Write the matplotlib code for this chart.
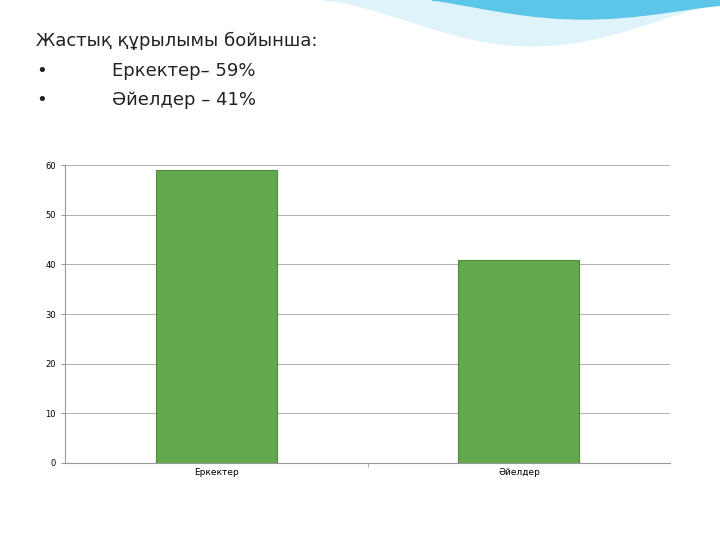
import matplotlib
matplotlib.use("Agg")
import matplotlib.pyplot as plt
import numpy as np
from matplotlib.patches import Polygon

categories = ["Еркектер", "Әйелдер"]
values = [59, 41]
yticks = [0, 10, 20, 30, 40, 50, 60]

fig = plt.figure(figsize=(7.2, 5.4), dpi=100)
fig.patch.set_facecolor("white")

# decorative wave top-right
t = np.linspace(0, 1, 60)
xs = 0.45 + 0.55 * t
top = np.ones_like(t)
bot = 1.0 - 0.085 * np.sin(np.pi * t * 0.95) ** 1.5
fig.patches.append(Polygon(np.c_[np.r_[xs, xs[::-1]], np.r_[top, bot[::-1]]],
                           closed=True, transform=fig.transFigure, color="#dff3fa", zorder=0))
xs2 = 0.6 + 0.4 * t
bot2 = 1.0 - 0.03 * np.sin(np.pi * t) ** 1.2 - 0.01 * t
fig.patches.append(Polygon(np.c_[np.r_[xs2, xs2[::-1]], np.r_[top, bot2[::-1]]],
                           closed=True, transform=fig.transFigure, color="#5cc6e8", zorder=0))

fig.text(0.05, 0.915, "Жастық құрылымы бойынша:", fontsize=13, color="#222222")
fig.text(0.05, 0.86, "•", fontsize=13, color="#222222")
fig.text(0.155, 0.86, "Еркектер– 59%", fontsize=13, color="#222222")
fig.text(0.05, 0.805, "•", fontsize=13, color="#222222")
fig.text(0.155, 0.805, "Әйелдер – 41%", fontsize=13, color="#222222")

ax = fig.add_axes([0.090, 0.1426, 0.841, 0.5514])
x = np.arange(len(categories))
ax.bar(x, values, width=0.4, color="#64a84e", edgecolor="#4f8a3c", linewidth=0.8, zorder=3)
ax.set_xlim(-0.5, 1.5)
ax.set_ylim(0, 60)
ax.set_yticks(yticks)
ax.set_yticklabels([str(v) for v in yticks], fontsize=6)
ax.set_xticks(x)
ax.set_xticklabels(categories, fontsize=6.5)
ax.set_xticks([0.5], minor=True)
ax.tick_params(axis="x", which="major", length=0)
ax.tick_params(axis="x", which="minor", length=3, color="#999999")
ax.tick_params(axis="y", length=3, color="#999999")
ax.grid(axis="y", color="#b0b0b0", linewidth=0.7, zorder=0)
for s in ["top", "right"]:
    ax.spines[s].set_visible(False)
ax.spines["left"].set_color("#999999")
ax.spines["bottom"].set_color("#999999")

fig.savefig("out.png", dpi=100)
